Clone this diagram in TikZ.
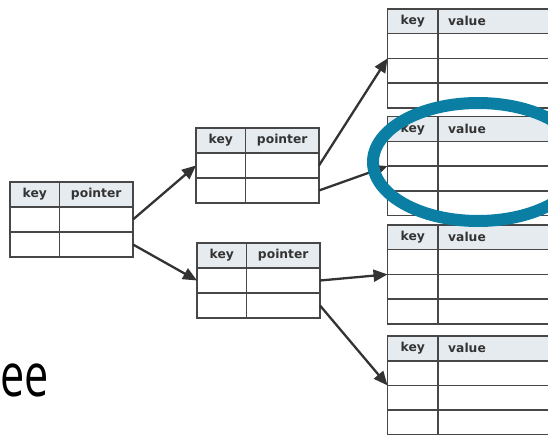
\documentclass[tikz,border=0pt]{standalone}
\usepackage{fontspec}
\setmainfont{DejaVu Sans}
\newfontfamily\slidefont{Open Sans}
\usetikzlibrary{arrows.meta}

\definecolor{gridline}{HTML}{474747}
\definecolor{headfill}{HTML}{E6EBEF}
\definecolor{labeltext}{HTML}{333333}
\definecolor{arrowink}{HTML}{333333}
\definecolor{ringteal}{HTML}{0A7EA3}

\tikzset{
  cell/.style={draw=gridline, line width=1.6pt, anchor=north west,
               inner sep=0pt, outer sep=0pt},
  headcell/.style={cell, fill=headfill},
  headtext/.style={font=\bfseries\fontsize{12.3}{14}\selectfont,
                   text=labeltext, inner sep=0pt},
  link/.style={draw=arrowink, line width=2.3pt,
               -{Triangle[length=14pt,width=12pt]}},
}

% #1 name, #2 left x, #3 divider x, #4 right x, #5 top y,
% #6 row height, #7 number of rows, #8 second header, #9 1 = left aligned
\newcommand\kvtable[9]{%
  \pgfmathsetmacro\kvwa{#3-#2}%
  \pgfmathsetmacro\kvwb{#4-#3}%
  \node[headcell, minimum width=\kvwa pt, minimum height=#6pt] (#1-h1) at (#2,#5) {};
  \node[headcell, minimum width=\kvwb pt, minimum height=#6pt] (#1-h2) at (#3,#5) {};
  \node[headtext] (#1-t1) at (#1-h1.center) {key};
  \ifnum#9=1
    \node[headtext, anchor=west] (#1-t2) at ([xshift=10pt]#1-h2.west) {#8};
  \else
    \node[headtext] (#1-t2) at (#1-h2.center) {#8};
  \fi
  \foreach \r in {1,...,#7}{%
    \pgfmathsetmacro\kvy{#5+\r*#6}%
    \node[cell, minimum width=\kvwa pt, minimum height=#6pt] (#1-\r-1) at (#2,\kvy) {};
    \node[cell, minimum width=\kvwb pt, minimum height=#6pt] (#1-\r-2) at (#3,\kvy) {};
  }%
}

\begin{document}
\begin{tikzpicture}[x=1pt, y=-1pt]
  \clip (0,0) rectangle (548,435);

  % root node
  \kvtable{r}{10}{59.5}{133}{182}{25}{2}{pointer}{0}
  % inner nodes
  \kvtable{ma}{196}{245.5}{319}{128}{25}{2}{pointer}{0}
  \kvtable{mb}{197}{246.5}{320}{243}{25}{2}{pointer}{0}
  % leaf nodes
  \kvtable{la}{387.5}{438}{562}{9}{24.7}{3}{value}{1}
  \kvtable{lb}{387.5}{438}{562}{116.7}{24.7}{3}{value}{1}
  \kvtable{lc}{387.5}{438}{562}{225}{24.7}{3}{value}{1}
  \kvtable{ld}{387.5}{438}{562}{336}{24.7}{3}{value}{1}

  % pointers
  \draw[link] (r-1-2.east) -- (ma-1-1.west);
  \draw[link] (r-2-2.east) -- (mb-1-1.west);
  \draw[link] (ma-1-2.east) -- (la-1-1.south west);
  \draw[link] (ma-2-2.east) -- (lb-1-1.south west);
  \draw[link] (mb-1-2.east) -- (lc-1-1.south west);
  \draw[link] (mb-2-2.east) -- (ld-1-1.south west);

  % highlight ring
  \draw[ringteal, line width=12pt] (478,162) ellipse [x radius=105pt, y radius=59pt];

  % slide title fragment
  \node[font=\slidefont\fontsize{60}{60}\selectfont, anchor=base west,
        xscale=0.72, inner sep=0pt] (title) at (0,396) {ee};
\end{tikzpicture}
\end{document}
